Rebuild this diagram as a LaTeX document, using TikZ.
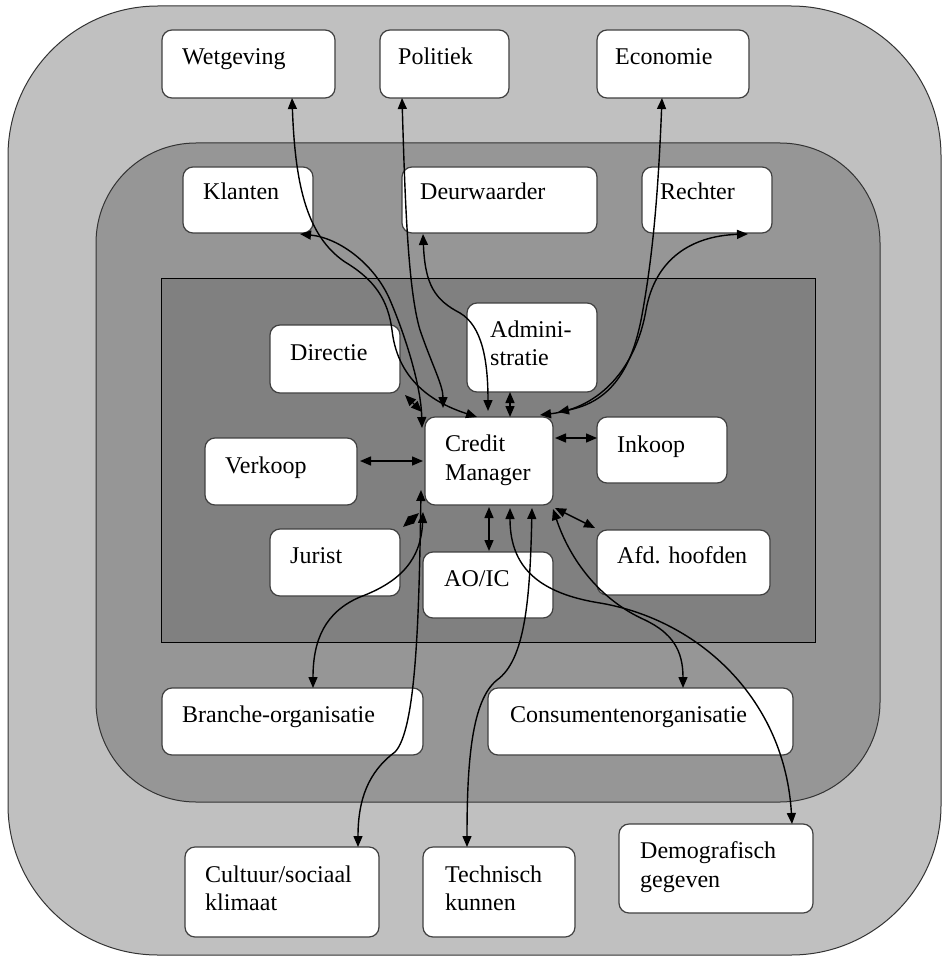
\documentclass[tikz,border=0pt]{standalone}
\usepackage{fontspec}
\setmainfont{Liberation Serif}
\usetikzlibrary{arrows.meta}
\definecolor{outerc}{HTML}{C0C0C0}
\definecolor{midc}{HTML}{969696}
\definecolor{innerc}{HTML}{808080}
\definecolor{edgec}{HTML}{404040}
\tikzset{
 box/.style={draw=edgec, line width=1.2pt, fill=white, rounded corners=10pt, inner sep=0pt, outer sep=0pt},
 lbl/.style={anchor=base west, inner sep=0pt, font=\fontsize{24}{28}\selectfont},
 conn/.style={line width=1.4pt, {Triangle[length=11pt,width=9pt]}-{Triangle[length=11pt,width=9pt]}},
}
\newcommand\bx[5]{\node[box, minimum width={(#4-#2)*1pt}, minimum height={(#5-#3)*1pt}] (#1) at ({(#2+#4)/2},{(#3+#5)/2}) {};}
\newcommand\tx[5]{\node[lbl] (#1) at ([shift={(#3,#4)}]#2.north west) {#5};}
\begin{document}
\begin{tikzpicture}[x=1pt,y=-1pt]
\useasboundingbox (0,0) rectangle (943,957);
% layers
\draw[fill=outerc, draw=black!80, line width=1pt, rounded corners=150pt] (8,6) rectangle (941,955);
\draw[fill=midc, draw=black!80, line width=1pt, rounded corners=100pt] (96,143) rectangle (880,802);
\draw[fill=innerc, draw=black, line width=1pt] (161,279) rectangle (815,642);
% boxes
\bx{wet}{162}{30}{335}{98}
\bx{pol}{380}{30}{509}{98}
\bx{eco}{597}{30}{749}{98}
\bx{kla}{183}{167}{313}{233}
\bx{deu}{402}{167}{597}{233}
\bx{rec}{642}{167}{772}{233}
\bx{dir}{270}{325}{400}{393}
\bx{adm}{467}{303}{597}{392}
\bx{ver}{205}{438}{357}{505}
\bx{cm}{425}{417}{553}{505}
\bx{ink}{597}{417}{727}{483}
\bx{jur}{270}{529}{400}{596}
\bx{aoic}{423}{552}{553}{618}
\bx{afd}{597}{530}{770}{595}
\bx{bra}{162}{688}{423}{755}
\bx{con}{488}{688}{793}{755}
\bx{cul}{185}{847}{379}{937}
\bx{tec}{423}{847}{575}{937}
\bx{dem}{619}{824}{813}{913}
% texts
\tx{wett}{wet}{20}{35}{Wetgeving}
\tx{polt}{pol}{18}{35}{Politiek}
\tx{ecot}{eco}{18}{35}{Economie}
\tx{klat}{kla}{20}{33}{Klanten}
\tx{deut}{deu}{18}{33}{Deurwaarder}
\tx{rect}{rec}{18}{33}{Rechter}
\tx{dirt}{dir}{20}{35}{Directie}
\tx{admt}{adm}{23}{34}{Admini-}
\tx{admu}{adm}{23}{62}{stratie}
\tx{vert}{ver}{20}{35}{Verkoop}
\tx{cmt}{cm}{20}{34}{Credit}
\tx{cmu}{cm}{20}{63}{Manager}
\tx{inkt}{ink}{20}{35}{Inkoop}
\tx{jurt}{jur}{20}{34}{Jurist}
\tx{aoict}{aoic}{21}{34}{AO/IC}
\tx{afdt}{afd}{20}{33}{Afd. hoofden}
\tx{brat}{bra}{20}{34}{Branche-organisatie}
\tx{cont}{con}{22}{34}{Consumentenorganisatie}
\tx{cult}{cul}{20}{35}{Cultuur/sociaal}
\tx{culu}{cul}{20}{63}{klimaat}
\tx{tect}{tec}{22}{35}{Technisch}
\tx{tecu}{tec}{22}{63}{kunnen}
\tx{demt}{dem}{21}{34}{Demografisch}
\tx{demu}{dem}{21}{63}{gegeven}
% long connectors, top
\draw[conn] ([shift={(130,0)}]wet.south west) .. controls (295,180) and (305,235) .. (345,262) .. controls (375,280) and (388,300) .. (392,330) .. controls (398,385) and (440,405) .. ([shift={(52,0)}]cm.north west);
\draw[conn] ([shift={(117,1)}]kla.south west) .. controls (340,238) and (375,265) .. (390,300) .. controls (405,335) and (421,385) .. ([shift={(-3,11)}]cm.north west);
\draw[conn] ([shift={(22,0)}]pol.south west) .. controls (405,200) and (408,290) .. (420,330) .. controls (432,365) and (443,385) .. ([shift={(18,-9)}]cm.north west);
\draw[conn] ([shift={(21,1)}]deu.south west) .. controls (425,285) and (435,300) .. (460,313) .. controls (482,326) and (488,360) .. ([shift={(63,-6)}]cm.north west);
\draw[conn] ([shift={(65,0)}]eco.south west) .. controls (658,200) and (652,260) .. (642,315) .. controls (632,370) and (610,402) .. ([shift={(133,-5)}]cm.north west);
\draw[conn] ([shift={(106,1)}]rec.south west) .. controls (690,236) and (655,260) .. (646,310) .. controls (636,368) and (600,408) .. ([shift={(115,-2)}]cm.north west);
% long connectors, bottom
\draw[conn] ([shift={(-4,-15)}]cm.south west) .. controls (419,620) and (416,730) .. (395,752) .. controls (368,772) and (358,800) .. ([shift={(173,0)}]cul.north west);
\draw[conn] ([shift={(-2,7)}]cm.south west) .. controls (421,560) and (400,582) .. (360,597) .. controls (325,612) and (313,640) .. ([shift={(151,0)}]bra.north west);
\draw[conn] ([shift={(107,3)}]cm.south west) .. controls (530,600) and (525,660) .. (497,680) .. controls (472,700) and (467,760) .. ([shift={(44,0)}]tec.north west);
\draw[conn] ([shift={(85,3)}]cm.south west) .. controls (510,560) and (530,592) .. (600,603) .. controls (700,620) and (785,700) .. ([shift={(173,0)}]dem.north west);
\draw[conn] ([shift={(128,4)}]cm.south west) .. controls (570,560) and (600,600) .. (645,620) .. controls (672,633) and (683,650) .. ([shift={(195,0)}]con.north west);
% short connectors
\draw[conn] ([shift={(5,2)}]dir.south east) -- ([shift={(-3,-5)}]cm.north west);
\draw[conn] ([shift={(43,0)}]adm.south west) -- ([shift={(85,0)}]cm.north west);
\draw[conn] ([shift={(3,23)}]ver.north east) -- ([shift={(-2,44)}]cm.north west);
\draw[conn] ([shift={(2,21)}]cm.north east) -- ([shift={(0,21)}]ink.north west);
\draw[conn] ([shift={(3,-2)}]jur.north east) -- ([shift={(-6,8)}]cm.south west);
\draw[conn] ([shift={(64,2)}]cm.south west) -- ([shift={(66,-1)}]aoic.north west);
\draw[conn] ([shift={(2,3)}]cm.south east) -- ([shift={(-2,-2)}]afd.north west);
\end{tikzpicture}
\end{document}
